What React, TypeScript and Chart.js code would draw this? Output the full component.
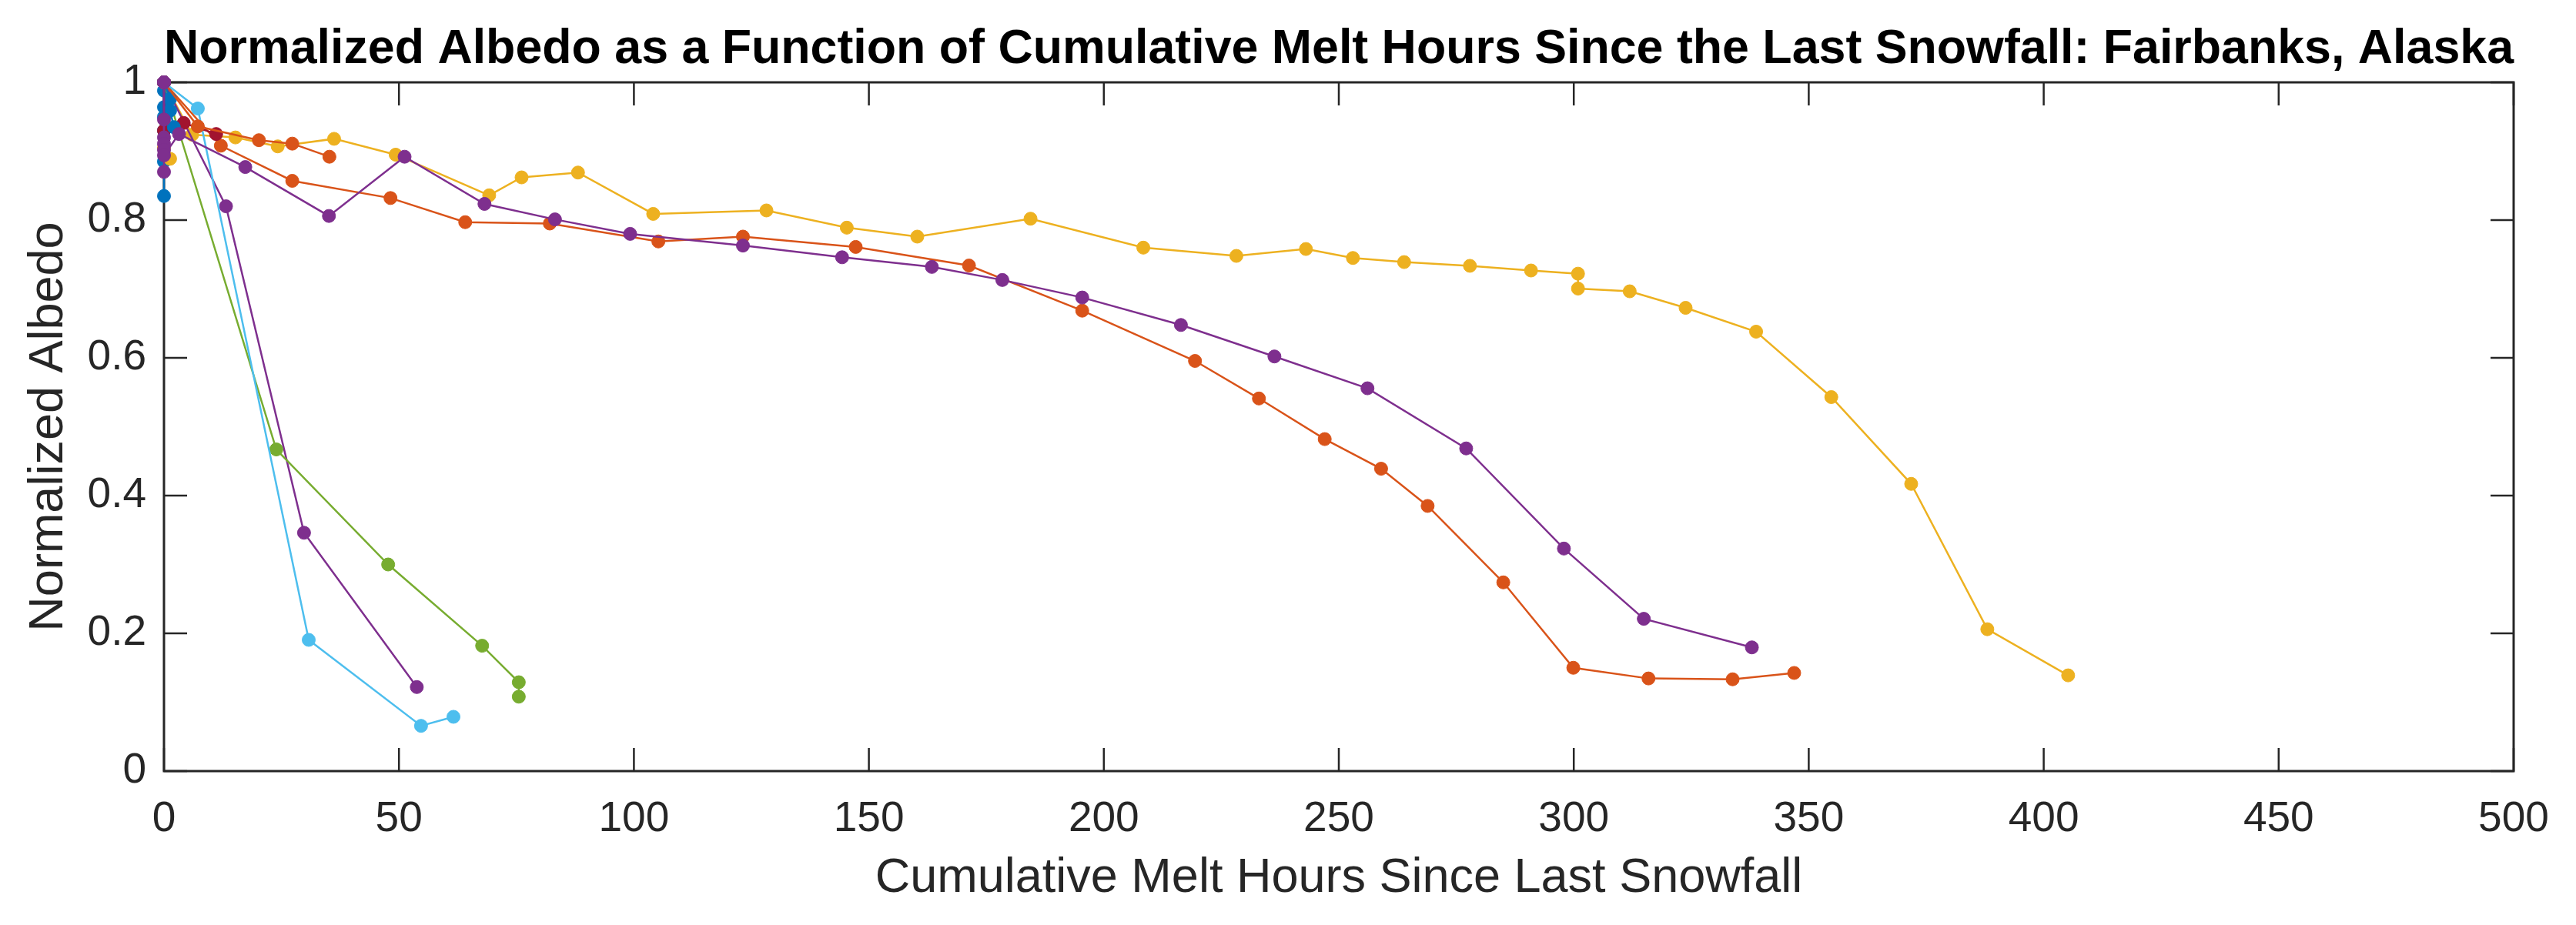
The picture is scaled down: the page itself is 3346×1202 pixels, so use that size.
import React, { useEffect, useRef } from 'react';
import { Chart, registerables } from 'chart.js';

Chart.register(...registerables);

const TITLE = 'Normalized Albedo as a Function of Cumulative Melt Hours Since the Last Snowfall: Fairbanks, Alaska';
const X_LABEL = 'Cumulative Melt Hours Since Last Snowfall';
const Y_LABEL = 'Normalized Albedo';
const X_TICKS = [0, 50, 100, 150, 200, 250, 300, 350, 400, 450, 500];
const Y_TICKS = [0, 0.2, 0.4, 0.6, 0.8, 1];

const BLUE = '#0072BD';
const ORANGE = '#D95319';
const YELLOW = '#EDB120';
const PURPLE = '#7E2F8E';
const GREEN = '#77AC30';
const LIGHTBLUE = '#4DBEEE';
const DARKRED = '#A2142F';

// Series values (x = cumulative melt hours, y = normalized albedo)
const blueAX = [0, 0, 0, 0, 0, 0, 0];
const blueAY = [1, 0.988, 0.964, 0.95, 0.93, 0.885, 0.835];

const orangeLongX = [0, 12.1, 27.3, 48.2, 64.1, 82.1, 105.2, 123.2, 147.2, 171.3, 195.4, 219.4, 233, 247, 259, 268.9, 285, 299.9, 315.9, 333.8, 346.9];
const orangeLongY = [1, 0.908, 0.857, 0.832, 0.797, 0.795, 0.769, 0.776, 0.761, 0.734, 0.6685, 0.5955, 0.541, 0.482, 0.439, 0.385, 0.274, 0.15, 0.1345, 0.1333, 0.1425];

const yellowLongX = [0, 6.0, 15.2, 24.2, 36.2, 49.3, 69.2, 76.1, 88.1, 104.1, 128.2, 145.3, 160.3, 184.4, 208.4, 228.2, 243, 253, 263.9, 277.9, 290.9, 300.9, 300.9, 311.9, 323.8, 338.8, 354.8, 371.8, 388, 405.2];
const yellowLongY = [1, 0.924, 0.92, 0.907, 0.918, 0.895, 0.836, 0.862, 0.869, 0.809, 0.814, 0.789, 0.776, 0.802, 0.76, 0.748, 0.758, 0.745, 0.739, 0.7336, 0.7268, 0.7222, 0.7006, 0.6966, 0.6726, 0.638, 0.543, 0.417, 0.206, 0.139];

const purpleShortX = [0, 13.2, 29.8, 53.8];
const purpleShortY = [1, 0.82, 0.346, 0.122];

const greenX = [0, 23.9, 47.7, 67.7, 75.5, 75.5];
const greenY = [1, 0.467, 0.3, 0.182, 0.129, 0.108];

const lightBlueX = [0, 7.2, 30.8, 54.7, 61.6];
const lightBlueY = [1, 0.962, 0.1905, 0.0657, 0.0788];

const darkRedX = [0, 0, 4.2, 11.1];
const darkRedY = [1, 0.93, 0.941, 0.925];

const blueBX = [0, 1.3, 1.3, 2.1];
const blueBY = [1, 0.976, 0.959, 0.935];

const orangeShortX = [0, 7.2, 20.2, 27.3, 35.2];
const orangeShortY = [1, 0.936, 0.916, 0.911, 0.892];

const yellowShortX = [0, 1.3];
const yellowShortY = [0.905, 0.889];

const purpleLongX = [0, 0, 0, 0, 0, 0, 3.2, 17.3, 35.1, 51.2, 68.2, 83.2, 99.2, 123.2, 144.3, 163.4, 178.4, 195.4, 216.4, 236.3, 256.1, 277.1, 297.9, 314.9, 337.9];
const purpleLongY = [1, 0.946, 0.92, 0.911, 0.902, 0.894, 0.925, 0.877, 0.806, 0.892, 0.8235, 0.801, 0.78, 0.763, 0.746, 0.732, 0.713, 0.6876, 0.6477, 0.602, 0.5558, 0.4685, 0.3231, 0.2211, 0.1796];

const purpleZeroX = [0, 0];
const purpleZeroY = [1, 0.87];

// MATLAB plot order (later drawn on top)
const SERIES = [
  { x: blueAX, y: blueAY, color: BLUE },
  { x: orangeLongX, y: orangeLongY, color: ORANGE },
  { x: yellowLongX, y: yellowLongY, color: YELLOW },
  { x: purpleShortX, y: purpleShortY, color: PURPLE },
  { x: greenX, y: greenY, color: GREEN },
  { x: lightBlueX, y: lightBlueY, color: LIGHTBLUE },
  { x: darkRedX, y: darkRedY, color: DARKRED },
  { x: blueBX, y: blueBY, color: BLUE },
  { x: orangeShortX, y: orangeShortY, color: ORANGE },
  { x: yellowShortX, y: yellowShortY, color: YELLOW },
  { x: purpleZeroX, y: purpleZeroY, color: PURPLE },
  { x: purpleLongX, y: purpleLongY, color: PURPLE },
];

const AXIS_COLOR = '#262626';
const FONT = "'Liberation Sans', Arial, Helvetica, sans-serif";

const boxPlugin = {
  id: 'matlabBox',
  beforeDatasetsDraw(chart: any) {
    const { ctx, chartArea, scales } = chart;
    const { left, right, top, bottom } = chartArea;
    const xs = scales.x;
    const ys = scales.y;
    const tl = 30;
    ctx.save();
    ctx.strokeStyle = AXIS_COLOR;
    ctx.lineWidth = 2.5;
    ctx.beginPath();
    X_TICKS.forEach((v) => {
      const px = xs.getPixelForValue(v);
      ctx.moveTo(px, bottom);
      ctx.lineTo(px, bottom - tl);
      ctx.moveTo(px, top);
      ctx.lineTo(px, top + tl);
    });
    Y_TICKS.forEach((v) => {
      const py = ys.getPixelForValue(v);
      ctx.moveTo(left, py);
      ctx.lineTo(left + tl, py);
      ctx.moveTo(right, py);
      ctx.lineTo(right - tl, py);
    });
    ctx.stroke();
    ctx.lineWidth = 3;
    ctx.strokeRect(left, top, right - left, bottom - top);
    ctx.restore();
  },
};

export default function App() {
  const canvasRef = useRef<HTMLCanvasElement | null>(null);

  useEffect(() => {
    const canvas = canvasRef.current;
    if (!canvas) return;
    const datasets = SERIES.map((s) => ({
      data: s.x.map((xv, i) => ({ x: xv, y: s.y[i] })),
      borderColor: s.color,
      backgroundColor: s.color,
      pointBackgroundColor: s.color,
      pointBorderColor: s.color,
      pointRadius: 8.5,
      pointBorderWidth: 1,
      borderWidth: 2.5,
      showLine: true,
      tension: 0,
      clip: false as any,
    })).reverse();

    const chart = new Chart(canvas, {
      type: 'scatter',
      data: { datasets },
      options: {
        animation: false,
        responsive: false,
        devicePixelRatio: 1,
        layout: { padding: { top: 0, right: 81, bottom: 0, left: 0 } },
        plugins: {
          legend: { display: false },
          tooltip: { enabled: false },
          title: {
            display: true,
            text: TITLE,
            fullSize: false,
            color: '#000000',
            font: { family: FONT, size: 63, weight: 'bold', lineHeight: 1.0 },
            padding: { top: 33, bottom: 11 },
          },
        },
        scales: {
          x: {
            type: 'linear',
            min: 0,
            max: 500,
            grid: { display: false, drawTicks: false },
            border: { display: false },
            ticks: {
              stepSize: 50,
              color: AXIS_COLOR,
              font: { family: FONT, size: 55 },
              padding: 30,
              maxRotation: 0,
            },
            title: {
              display: true,
              text: X_LABEL,
              color: AXIS_COLOR,
              font: { family: FONT, size: 63, lineHeight: 1.2 },
              padding: { top: 0, bottom: 23 },
            },
            afterFit: (scale: any) => {
              scale.height = 200;
            },
          },
          y: {
            type: 'linear',
            min: 0,
            max: 1,
            grid: { display: false, drawTicks: false },
            border: { display: false },
            ticks: {
              stepSize: 0.2,
              color: AXIS_COLOR,
              font: { family: FONT, size: 55 },
              padding: 23,
              callback: (v: any) => String(Math.round(Number(v) * 10) / 10),
            },
            title: {
              display: true,
              text: Y_LABEL,
              color: AXIS_COLOR,
              font: { family: FONT, size: 63, lineHeight: 1.2 },
              padding: { top: 26, bottom: 0 },
            },
            afterFit: (scale: any) => {
              scale.width = 213;
            },
          },
        },
      },
      plugins: [boxPlugin],
    });
    return () => chart.destroy();
  }, []);

  return (
    <div style={{ position: 'absolute', left: 0, top: 0, width: 3346, height: 1202, background: '#ffffff' }}>
      <canvas ref={canvasRef} width={3346} height={1202} style={{ display: 'block' }} />
    </div>
  );
}
